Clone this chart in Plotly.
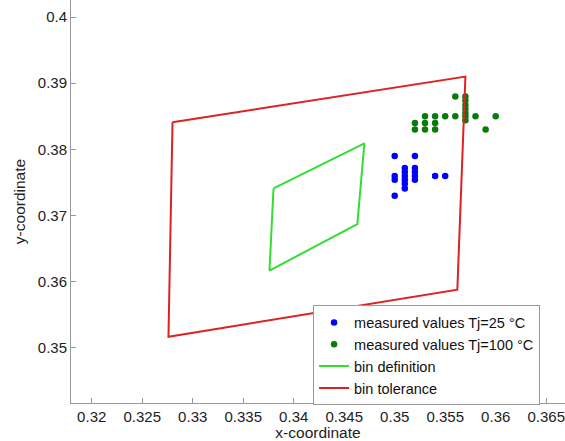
import plotly.graph_objects as go

# Measured values Tj=25 °C
blue_x = [0.350, 0.352, 0.351, 0.352, 0.351, 0.352, 0.350, 0.351, 0.352, 0.354, 0.355,
          0.350, 0.351, 0.352, 0.351, 0.351, 0.350]
blue_y = [0.379, 0.379, 0.3772, 0.3772, 0.3766, 0.3766, 0.376, 0.376, 0.376, 0.376, 0.376,
          0.3754, 0.3754, 0.3754, 0.3748, 0.3741, 0.373]

# Measured values Tj=100 °C
green_x = [0.352, 0.352, 0.353, 0.353, 0.353, 0.354, 0.354, 0.354, 0.355, 0.356, 0.356,
           0.357, 0.357, 0.357, 0.357, 0.357, 0.357, 0.357, 0.358, 0.359, 0.360]
green_y = [0.384, 0.383, 0.385, 0.384, 0.383, 0.385, 0.384, 0.383, 0.385, 0.388, 0.385,
           0.388, 0.3874, 0.3867, 0.3861, 0.3855, 0.385, 0.3844, 0.385, 0.383, 0.385]

# Bin definition polygon (closed)
bin_def_x = [0.3380, 0.3470, 0.3463, 0.3376, 0.3380]
bin_def_y = [0.3741, 0.3809, 0.3687, 0.3617, 0.3741]

# Bin tolerance polygon (closed)
bin_tol_x = [0.3280, 0.3570, 0.3562, 0.3276, 0.3280]
bin_tol_y = [0.3841, 0.3910, 0.3588, 0.3517, 0.3841]

x_ticks = [0.32, 0.325, 0.33, 0.335, 0.34, 0.345, 0.35, 0.355, 0.36, 0.365]
y_ticks = [0.35, 0.36, 0.37, 0.38, 0.39, 0.40]
x_tick_text = ["0.32", "0.325", "0.33", "0.335", "0.34", "0.345", "0.35", "0.355", "0.36", "0.365"]
y_tick_text = ["0.35", "0.36", "0.37", "0.38", "0.39", "0.4"]

FONT = "Liberation Sans, Arial, sans-serif"

fig = go.Figure()
fig.add_trace(go.Scatter(x=blue_x, y=blue_y, mode="markers",
                         marker=dict(color="#0000ff", size=6.5),
                         name="measured values Tj=25 °C"))
fig.add_trace(go.Scatter(x=green_x, y=green_y, mode="markers",
                         marker=dict(color="#0a7a0a", size=6.5),
                         name="measured values Tj=100 °C"))
fig.add_trace(go.Scatter(x=bin_def_x, y=bin_def_y, mode="lines",
                         line=dict(color="#33dd33", width=2),
                         name="bin definition"))
fig.add_trace(go.Scatter(x=bin_tol_x, y=bin_tol_y, mode="lines",
                         line=dict(color="#dd2222", width=2),
                         name="bin tolerance"))

fig.update_layout(
    width=565, height=441,
    margin=dict(l=71, r=0, t=0, b=38),
    paper_bgcolor="white", plot_bgcolor="white",
    font=dict(family=FONT, size=15, color="#222"),
    showlegend=True,
    legend=dict(x=0.49, y=0.242, xanchor="left", yanchor="top",
                bgcolor="white", bordercolor="#999", borderwidth=1,
                font=dict(size=14.5, color="#111"),
                tracegroupgap=0, itemwidth=30),
    xaxis=dict(range=[0.31795, 0.36686], tickvals=x_ticks, ticktext=x_tick_text,
               showgrid=False, zeroline=False, showline=True, linecolor="#999",
               linewidth=1, ticks="inside", ticklen=5, tickcolor="#999",
               title=dict(text="x-coordinate", standoff=2, font=dict(size=15.5))),
    yaxis=dict(range=[0.34169, 0.40257], tickvals=y_ticks, ticktext=y_tick_text,
               showgrid=False, zeroline=False, showline=True, linecolor="#999",
               linewidth=1, ticks="inside", ticklen=5, tickcolor="#999",
               title=dict(text="y-coordinate", standoff=8, font=dict(size=15.5))),
)

fig.write_html("out.html")
